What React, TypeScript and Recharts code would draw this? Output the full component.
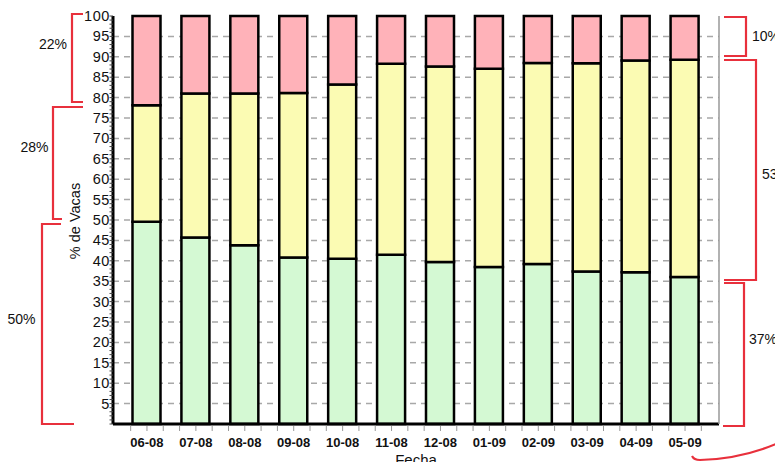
import React from 'react';
import { BarChart, Bar, XAxis, YAxis, CartesianGrid } from 'recharts';

// ─── Data ─────────────────────────────────────────────────────────────────────

const FECHAS = ['06-08', '07-08', '08-08', '09-08', '10-08', '11-08', '12-08', '01-09', '02-09', '03-09', '04-09', '05-09'];
const VERDE = [49.6, 45.7, 43.8, 40.8, 40.5, 41.5, 39.7, 38.5, 39.2, 37.4, 37.2, 36.0];
const AMARILLO = [28.5, 35.3, 37.2, 40.3, 42.7, 46.8, 47.9, 48.6, 49.3, 51.0, 51.9, 53.3];
const ROSA = [21.9, 19.0, 19.0, 18.9, 16.8, 11.7, 12.4, 12.9, 11.5, 11.6, 10.9, 10.7];

const Y_LABELS = [5, 10, 15, 20, 25, 30, 35, 40, 45, 50, 55, 60, 65, 70, 75, 80, 85, 90, 95, 100];
const Y_MINOR = Array.from({ length: 101 }, (_, i) => i);
const GRID_VALUES = Y_LABELS.filter((v) => v < 100);

const data = FECHAS.map((fecha, i) => ({
  fecha,
  verde: VERDE[i],
  amarillo: AMARILLO[i],
  rosa: ROSA[i],
}));

// ─── Colors ───────────────────────────────────────────────────────────────────

const C_VERDE = '#d4f9d3';
const C_AMARILLO = '#fbfbb3';
const C_ROSA = '#ffb2b9';
const C_RED = '#e8303c';
const FONT = 'Arial, "Liberation Sans", sans-serif';

// Side annotations (hand-drawn brackets around the plot)
const BRACKETS = [
  { d: 'M83 14 H72 V102 H83', label: '22%', x: 53, y: 49, anchor: 'middle' },
  { d: 'M83 107 H53 V219 H62', label: '28%', x: 34.5, y: 152, anchor: 'middle' },
  { d: 'M61 224 H42 V424 H74', label: '50%', x: 21.5, y: 324, anchor: 'middle' },
  { d: 'M724 17 H746 V56 H724', label: '10%', x: 752, y: 40.5, anchor: 'start' },
  { d: 'M724 60 H756 V280 H724', label: '53%', x: 762, y: 179, anchor: 'start' },
  { d: 'M724 283 H744 V426 H723', label: '37%', x: 749, y: 344, anchor: 'start' },
];

// ─── Ticks ────────────────────────────────────────────────────────────────────

function YTick({ x, y, payload }: any) {
  const v = payload.value as number;
  return (
    <g>
      <line x1={x - 3.5} x2={x} y1={y} y2={y} stroke="#444" strokeWidth={1} />
      {v > 0 && v % 5 === 0 && (
        <text
          x={x - 3}
          y={y + 5}
          textAnchor="end"
          fontFamily={FONT}
          fontSize={14.5}
          letterSpacing={0.6}
          fill="#111"
        >
          {v}
        </text>
      )}
    </g>
  );
}

function XTick({ x, y, payload }: any) {
  const step = 16.3;
  return (
    <g>
      {[-step, 0, step].map((o) => (
        <line key={o} x1={x + o} x2={x + o} y1={y + 2} y2={y + 7} stroke="#999" strokeWidth={1} />
      ))}
      <text x={x} y={y + 23} textAnchor="middle" fontFamily={FONT} fontSize={13} fontWeight="bold" fill="#111">
        {payload.value}
      </text>
    </g>
  );
}

// ─── App ──────────────────────────────────────────────────────────────────────

export default function App() {
  return (
    <div
      style={{
        position: 'absolute',
        left: 0,
        top: 0,
        width: 775,
        height: 462,
        overflow: 'hidden',
        background: '#fff',
      }}
    >
      <BarChart width={775} height={462} data={data} margin={{ top: 16, right: 0, left: 0, bottom: 0 }}>
        <CartesianGrid
          horizontal
          vertical={false}
          horizontalValues={GRID_VALUES}
          stroke="#a8a8a8"
          strokeWidth={1.5}
          strokeDasharray="6 5"
        />
        <XAxis
          dataKey="fecha"
          height={38}
          interval={0}
          padding={{ left: 9.5, right: 9.5 }}
          tickSize={0}
          tickMargin={0}
          tickLine={false}
          tick={<XTick />}
          axisLine={{ stroke: '#000', strokeWidth: 3 }}
        />
        <XAxis
          xAxisId="top"
          dataKey="fecha"
          orientation="top"
          height={0}
          tick={false}
          tickLine={false}
          axisLine={{ stroke: '#999', strokeWidth: 1.5 }}
        />
        <YAxis
          type="number"
          domain={[0, 100]}
          ticks={Y_MINOR}
          interval={0}
          width={113}
          tickSize={0}
          tickMargin={0}
          tickLine={false}
          tick={<YTick />}
          axisLine={{ stroke: '#000', strokeWidth: 3 }}
        />
        <YAxis
          yAxisId="r"
          orientation="right"
          type="number"
          domain={[0, 100]}
          width={56}
          tick={false}
          tickLine={false}
          axisLine={{ stroke: '#999', strokeWidth: 1.5 }}
        />
        <Bar dataKey="verde" stackId="a" fill={C_VERDE} stroke="#000" strokeWidth={2.5} barSize={28} isAnimationActive={false} />
        <Bar dataKey="amarillo" stackId="a" fill={C_AMARILLO} stroke="#000" strokeWidth={2.5} barSize={28} isAnimationActive={false} />
        <Bar dataKey="rosa" stackId="a" fill={C_ROSA} stroke="#000" strokeWidth={2.5} barSize={28} isAnimationActive={false} />
      </BarChart>

      {/* axis titles + red hand-drawn annotations */}
      <svg
        width={775}
        height={462}
        style={{ position: 'absolute', left: 0, top: 0, pointerEvents: 'none' }}
      >
        <text
          x={80}
          y={221}
          transform="rotate(-90 80 221)"
          textAnchor="middle"
          fontFamily={FONT}
          fontSize={14.5}
          fill="#111"
        >
          % de Vacas
        </text>
        <text x={416} y={465} textAnchor="middle" fontFamily={FONT} fontSize={15} fill="#111">
          Fecha
        </text>
        {BRACKETS.map((b) => (
          <g key={b.label}>
            <path d={b.d} fill="none" stroke={C_RED} strokeWidth={2.2} />
            <text x={b.x} y={b.y} textAnchor={b.anchor} fontFamily={FONT} fontSize={14} fill="#111">
              {b.label}
            </text>
          </g>
        ))}
        <path d="M692 456 Q694 460 700 460 Q740 459 776 444" fill="none" stroke={C_RED} strokeWidth={2.2} />
      </svg>
    </div>
  );
}
